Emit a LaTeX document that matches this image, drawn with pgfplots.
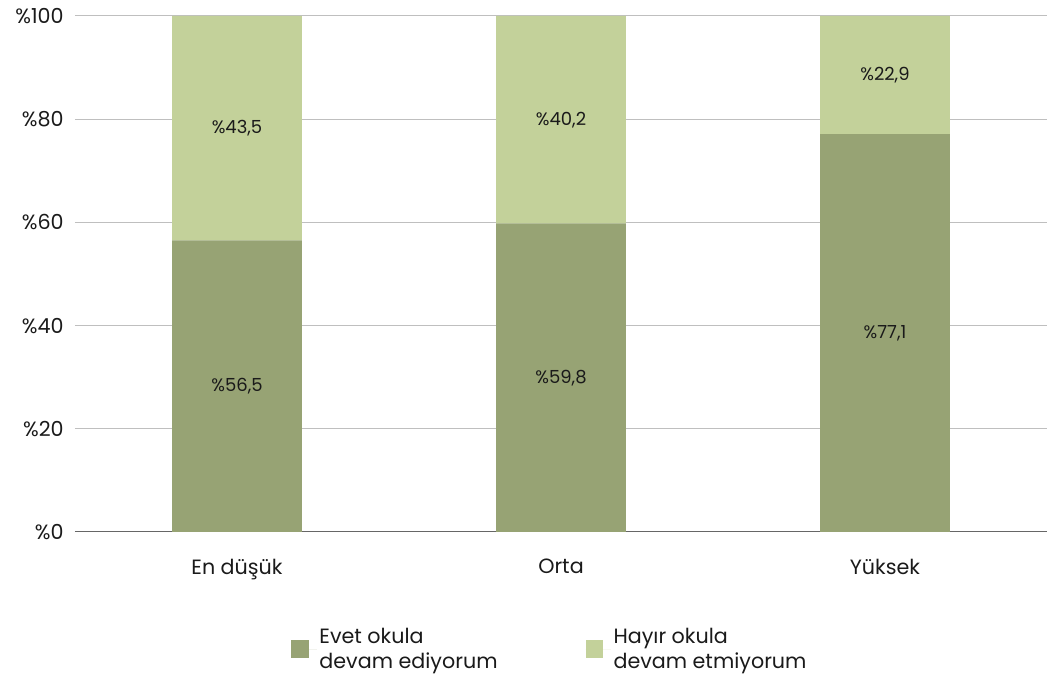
\documentclass[border=0pt]{standalone}
\usepackage{pgfplots}
\pgfplotsset{compat=1.18}
\usepackage{pgfplotstable}
\usepackage{fontspec}
\setmainfont{Poppins}
\definecolor{darkg}{HTML}{97A374}
\definecolor{lightg}{HTML}{C3D19A}
\definecolor{txt}{HTML}{1A1A1A}
\definecolor{gridc}{HTML}{BFBFBF}
\pgfplotstableread{
x yes notc
0 56.5 43.5
1 59.8 40.2
2 77.1 22.9
}\data
% label positions (segment midpoints) and values
\pgfplotstableread{
x mid val
0 28.25 56.5
1 29.90 59.8
2 38.55 77.1
0 78.25 43.5
1 79.90 40.2
2 88.55 22.9
}\labels
\begin{document}
\begin{tikzpicture}
\useasboundingbox (-56.25pt,-109.5pt) rectangle (729pt,399pt);
\begin{axis}[
  at={(0pt,0pt)}, anchor=south west,
  scale only axis, width=729pt, height=387pt,
  ybar stacked, bar width=0.4,
  xmin=-0.5, xmax=2.5, ymin=0, ymax=100,
  xtick=data, xticklabels={En düşük, Orta, Yüksek},
  ytick={0,20,40,60,80,100},
  yticklabel={\%\pgfmathprintnumber{\tick}},
  /pgf/number format/assume math mode=true,
  major tick length=0pt,
  axis x line*=bottom, axis y line*=left,
  axis line style={color=black!60, line width=0.75pt},
  y axis line style={draw=none},
  ymajorgrids, grid style={gridc, line width=0.75pt},
  ticklabel style={font=\fontsize{15.5}{18}\selectfont, text=txt},
  xticklabel style={yshift=-17pt},
  yticklabel style={xshift=-5pt},
  clip=false,
  legend style={at={(0.489,-0.175)}, anchor=north, draw=none, fill=none,
    legend columns=2, font=\fontsize{15.5}{18.75}\selectfont, text=txt,
    cells={align=left},
    /tikz/every even column/.append style={column sep=64pt}},
  legend image code/.code={\fill[#1] (0pt,-6.5pt) rectangle (13pt,6.5pt);
    \path (0pt,0pt) -- (19pt,0pt);},
]
\addplot[fill=darkg, draw=none] table[x=x, y=yes]{\data};
\addlegendentry{Evet okula\\devam ediyorum}
\addplot[fill=lightg, draw=none] table[x=x, y=notc]{\data};
\addlegendentry{Hayır okula\\devam etmiyorum}
\end{axis}
\begin{axis}[
  at={(0pt,0pt)}, anchor=south west,
  scale only axis, width=729pt, height=387pt,
  xmin=-0.5, xmax=2.5, ymin=0, ymax=100,
  hide axis, clip=false,
]
\addplot[only marks, mark=*, mark size=0pt,
  scatter/use mapped color={draw=none, fill=none},
  point meta=explicit symbolic,
  nodes near coords={\%\pgfmathprintnumber[assume math mode=true, use comma, fixed, fixed zerofill, precision=1]{\pgfplotspointmeta}},
  nodes near coords align=center,
  every node near coord/.append style={anchor=center, font=\fontsize{13.5}{16}\selectfont, text=txt}]
  table[x=x, y=mid, meta=val]{\labels};
\end{axis}
\end{tikzpicture}
\end{document}
